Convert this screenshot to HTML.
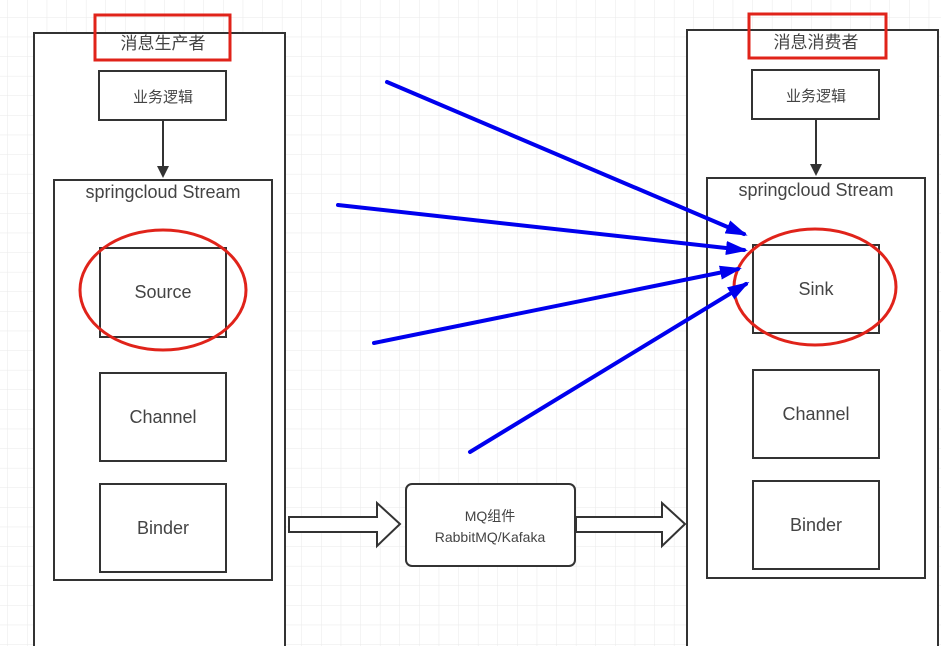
<!DOCTYPE html>
<html><head><meta charset="utf-8"><style>
html,body{margin:0;padding:0;background:#fff}
svg{display:block}
text{font-family:"Liberation Sans","Noto Sans CJK SC",sans-serif;fill:#444}
</style></head><body>
<svg width="941" height="646" xmlns="http://www.w3.org/2000/svg">
<defs>
<pattern id="g" x="8" y="-2" width="19.6" height="19.6" patternUnits="userSpaceOnUse">
<path d="M19.6 0V19.6M0 19.6H19.6" stroke="#e9e9e9" stroke-width="1" fill="none"/>
</pattern>
<marker id="bh" markerWidth="22" markerHeight="16" refX="18" refY="8" orient="auto" markerUnits="userSpaceOnUse" viewBox="0 0 22 16"><path d="M0,1 L22,8 L0,15 Z" fill="#0000ee"/></marker>
</defs>
<rect width="941" height="646" fill="#fff"/>
<rect width="941" height="646" fill="url(#g)"/>
<g fill="#fff" stroke="#333" stroke-width="2">
<rect x="34" y="33" width="251" height="620"/>
<rect x="99" y="71" width="127" height="49"/>
<rect x="54" y="180" width="218" height="400"/>
<rect x="100" y="248" width="126" height="89"/>
<rect x="100" y="373" width="126" height="88"/>
<rect x="100" y="484" width="126" height="88"/>
<rect x="687" y="30" width="251" height="620"/>
<rect x="752" y="70" width="127" height="49"/>
<rect x="707" y="178" width="218" height="400"/>
<rect x="753" y="245" width="126" height="88"/>
<rect x="753" y="370" width="126" height="88"/>
<rect x="753" y="481" width="126" height="88"/>
<rect x="406" y="484" width="169" height="82" rx="6"/>
<path d="M289 517H377V503L400 524L377 546V532H289Z"/>
<path d="M576 517H662V503L685 524L662 546V532H576Z"/>
</g>
<g stroke="#333" stroke-width="2">
<line x1="163" y1="120" x2="163" y2="168"/>
<line x1="816" y1="119" x2="816" y2="166"/>
</g>
<path d="M157 166H169L163 178Z M810 164H822L816 176Z" fill="#333"/>
<g fill="none" stroke="#e0231a" stroke-width="3">
<rect x="95" y="15" width="135" height="45"/>
<rect x="749" y="14" width="137" height="44"/>
<ellipse cx="163" cy="290" rx="83" ry="60"/>
<ellipse cx="815" cy="287" rx="81" ry="58"/>
</g>
<g font-size="17" text-anchor="middle">
<text x="163" y="49">消息生产者</text>
<text x="816" y="48">消息消费者</text>
<text x="163" y="102" font-size="15">业务逻辑</text>
<text x="816" y="101" font-size="15">业务逻辑</text>
<text x="163" y="198" font-size="18">springcloud Stream</text>
<text x="816" y="196" font-size="18">springcloud Stream</text>
<text x="163" y="298" font-size="18">Source</text>
<text x="163" y="423" font-size="18">Channel</text>
<text x="163" y="534" font-size="18">Binder</text>
<text x="816" y="295" font-size="18">Sink</text>
<text x="816" y="420" font-size="18">Channel</text>
<text x="816" y="531" font-size="18">Binder</text>
<text x="490" y="521" font-size="14">MQ组件</text>
<text x="490" y="542" font-size="14">RabbitMQ/Kafaka</text>
</g>
<g stroke="#0000ee" stroke-width="4" stroke-linecap="round" marker-end="url(#bh)">
<line x1="387" y1="82" x2="744" y2="234"/>
<line x1="338" y1="205" x2="744" y2="250"/>
<line x1="374" y1="343" x2="738" y2="269"/>
<line x1="470" y1="452" x2="746" y2="284"/>
</g>
</svg>
</body></html>
